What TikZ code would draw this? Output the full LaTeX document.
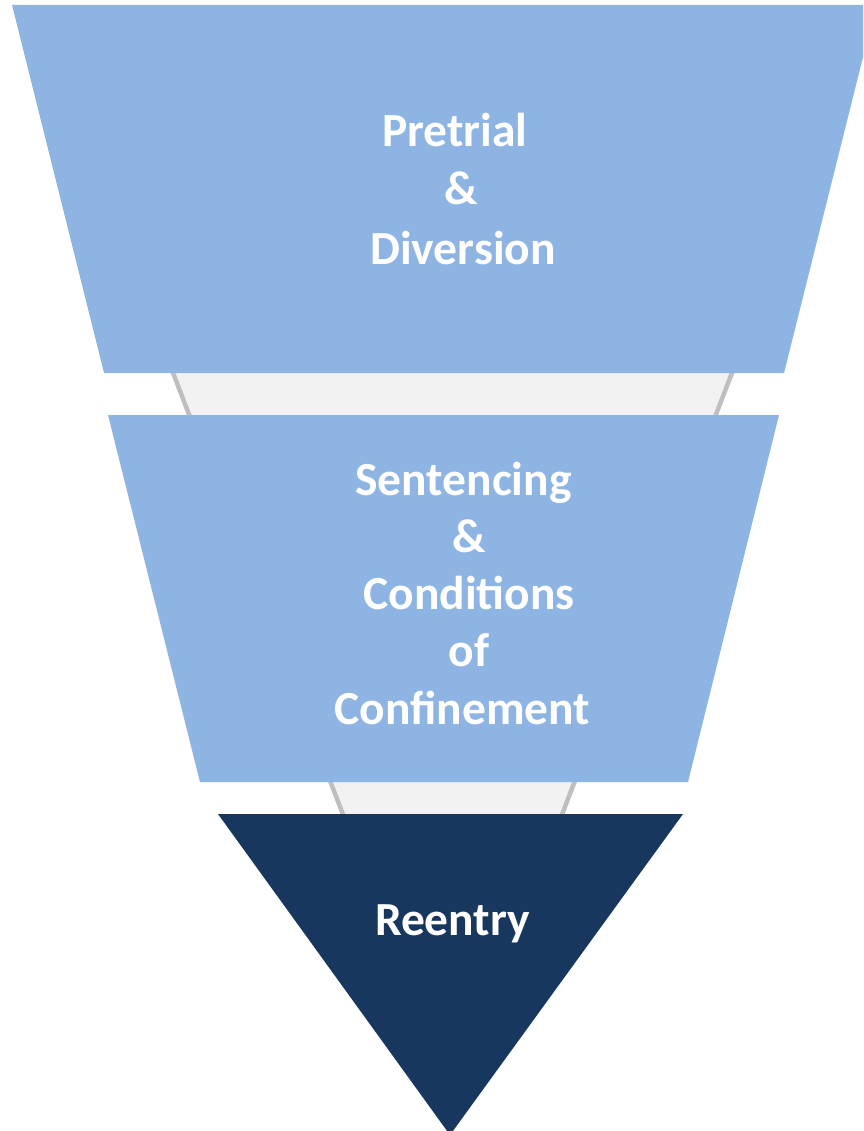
\documentclass[tikz,border=0pt]{standalone}
\usepackage{fontspec}
\setmainfont{Carlito}
\definecolor{lightblue}{HTML}{8EB4E3}
\definecolor{navy}{HTML}{17375E}
\definecolor{funnelfill}{HTML}{F2F2F2}
\definecolor{funnelline}{HTML}{BFBFBF}
\begin{document}
\begin{tikzpicture}[x=1pt,y=-1pt,
  stage/.style={fill=lightblue},
  laststage/.style={fill=navy},
  funnel/.style={fill=funnelfill,draw=funnelline,line width=4.5pt,line join=miter},
  label/.style={text=white,font=\fontsize{47.5}{55}\selectfont\bfseries,anchor=base,inner sep=0pt}]
\useasboundingbox (0,0) rectangle (863,1131);
\begin{scope}
\clip (0,0) rectangle (863,1131);
\draw[funnel] (68,100) -- (837,100) -- (452.5,1099) -- cycle;
\fill[stage] (12,5) -- (876,5) -- (784,373) -- (104,373) -- cycle;
\fill[stage] (108,415) -- (779,415) -- (688,782) -- (200,782) -- cycle;
\fill[laststage] (218,814) -- (683,814) -- (450,1135) -- cycle;
\end{scope}
\node[label] (p1) at (455,147) {Pretrial};
\node[label] (p2) at (461,205) {\&};
\node[label] (p3) at (463,265) {Diversion};
\node[label] (s1) at (463.5,495) {Sentencing};
\node[label] (s2) at (469.5,552) {\&};
\node[label] (s3) at (469,609) {Conditions};
\node[label] (s4) at (469,666) {of};
\node[label] (s5) at (462.5,724) {Confinement};
\node[label] (r1) at (452.5,935) {Reentry};
\end{tikzpicture}
\end{document}
